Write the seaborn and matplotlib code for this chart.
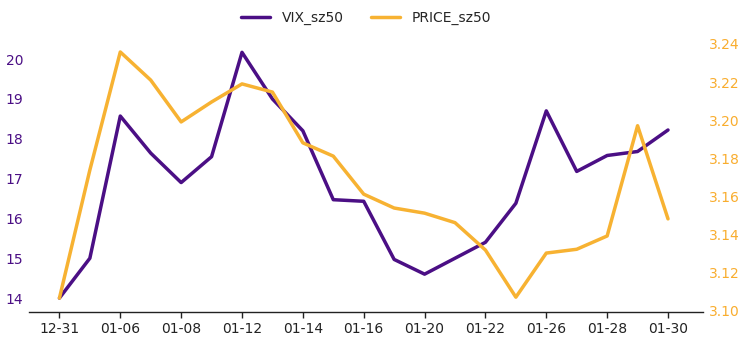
import matplotlib
matplotlib.use("Agg")
import matplotlib.pyplot as plt
import seaborn as sns
import pandas as pd
import numpy as np

dates = ["12-31", "01-05", "01-06", "01-07", "01-08", "01-09", "01-12", "01-13",
         "01-14", "01-15", "01-16", "01-19", "01-20", "01-21", "01-22", "01-23",
         "01-26", "01-27", "01-28", "01-29", "01-30"]
vix_sz50 = [14.0, 15.0, 18.57, 17.64, 16.9, 17.55, 20.17, 19.0, 18.2, 16.47, 16.43,
            14.97, 14.6, 15.0, 15.4, 16.38, 18.7, 17.18, 17.58, 17.68, 18.22]
price_sz50 = [3.1063, 3.1737, 3.2358, 3.221, 3.199, 3.2095, 3.219, 3.2147, 3.188,
              3.181, 3.161, 3.1537, 3.151, 3.146, 3.1316, 3.1068, 3.130, 3.132,
              3.139, 3.197, 3.148]

PURPLE = "#4b0f85"
ORANGE = "#f7b232"
TICK_ORANGE = "#f9ad2e"

sns.set_theme(style="white")
plt.rcParams['font.family'] = ['DejaVu Sans']

df = pd.DataFrame({"idx": np.arange(len(dates)), "date": dates,
                   "VIX_sz50": vix_sz50, "PRICE_sz50": price_sz50})

fig = plt.figure(figsize=(7.41, 3.40), dpi=100)
ax = fig.add_axes([29/741, 1-312/340, (703-29)/741, (312-40)/340])
ax2 = ax.twinx()

sns.lineplot(data=df, x="idx", y="VIX_sz50", ax=ax, color=PURPLE, linewidth=2.5, label="VIX_sz50", legend=False)
sns.lineplot(data=df, x="idx", y="PRICE_sz50", ax=ax2, color=ORANGE, linewidth=2.5, label="PRICE_sz50", legend=False)

ax.set_xlim(-1.0, 21.15)
ax.set_ylim(13.65, 20.48)
ax2.set_ylim(3.099, 3.2421)

ticks = list(range(0, len(dates), 2))
ax.set_xticks(ticks)
ax.set_xticklabels([dates[i] for i in ticks], fontsize=10, color="#222222")
ax.set_yticks([14, 15, 16, 17, 18, 19, 20])
ax.set_yticklabels(["14", "15", "16", "17", "18", "19", "20"], fontsize=10, color=PURPLE)
ax2.set_yticks([3.10, 3.12, 3.14, 3.16, 3.18, 3.20, 3.22, 3.24])
ax2.set_yticklabels([f"{v:.2f}" for v in [3.10, 3.12, 3.14, 3.16, 3.18, 3.20, 3.22, 3.24]],
                    fontsize=10, color=TICK_ORANGE)

ax.set_xlabel("")
ax.set_ylabel("")
ax2.set_ylabel("")
for a in (ax, ax2):
    for s in ("top", "left", "right"):
        a.spines[s].set_visible(False)
    a.grid(False)
ax2.spines["bottom"].set_visible(False)
ax.spines["bottom"].set_color("#222222")
ax.spines["bottom"].set_linewidth(1.0)
ax.tick_params(axis="x", bottom=True, length=4, width=1, color="#222222", pad=3)
ax.tick_params(axis="y", left=False, length=0, pad=4)
ax2.tick_params(axis="y", right=False, length=0, pad=4)

h1, l1 = ax.get_legend_handles_labels()
h2, l2 = ax2.get_legend_handles_labels()
fig.legend(h1 + h2, l1 + l2, loc="center", bbox_to_anchor=(0.494, 1-18/340), ncol=2,
           frameon=False, fontsize=10, handlelength=2.1, columnspacing=2.0)

fig.savefig("out.png", dpi=100)
